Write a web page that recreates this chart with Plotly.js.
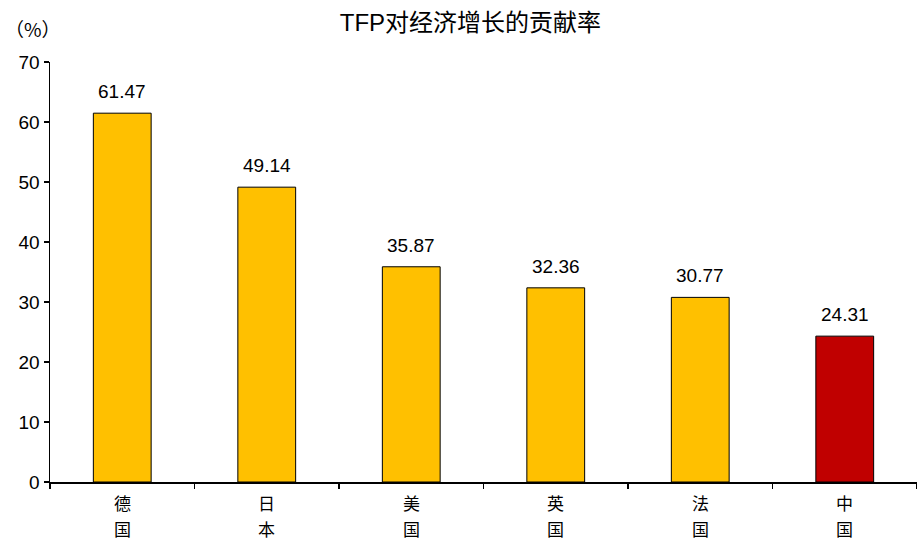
<!DOCTYPE html>
<html>
<head>
<meta charset="utf-8">
<script src="https://cdn.plot.ly/plotly-3.0.1.min.js"></script>
<style>html,body{margin:0;padding:0;background:#fff;}#chart{width:917px;height:540px;}</style>
</head>
<body>
<div id="chart"></div>
<script>
// TFP contribution to economic growth, by country (%)
const countries = ['德国', '日本', '美国', '英国', '法国', '中国'];
const tfpShare = [61.47, 49.14, 35.87, 32.36, 30.77, 24.31];
const barColors = ['#FFC000', '#FFC000', '#FFC000', '#FFC000', '#FFC000', '#C00000'];
const yTicks = [0, 10, 20, 30, 40, 50, 60, 70];

const trace = {
  type: 'bar',
  x: countries,
  y: tfpShare,
  marker: { color: barColors, line: { color: '#000', width: 1 } },
  hoverinfo: 'none'
};

const numFont = { family: 'Liberation Sans, Arial, sans-serif', size: 19, color: '#000' };
const cjkFont = { family: 'Noto Sans CJK SC, sans-serif', size: 17, color: '#000' };

// value labels above each bar
const valueLabels = tfpShare.map((v, i) => ({
  x: countries[i], y: v, xref: 'x', yref: 'y',
  text: v.toFixed(2), showarrow: false,
  yanchor: 'bottom', yshift: 9, font: numFont
}));

// country names written vertically, one character per line
const nameLabels = [];
countries.forEach(name => {
  Array.from(name).forEach((ch, k) => {
    nameLabels.push({
      x: name, y: 0, xref: 'x', yref: 'paper',
      text: ch, showarrow: false, yanchor: 'middle',
      yshift: -20 - 26 * k, font: cjkFont
    });
  });
});

const layout = {
  width: 917, height: 540,
  margin: { l: 50, r: 0, t: 62, b: 58 },
  paper_bgcolor: '#fff', plot_bgcolor: '#fff',
  bargap: 0.6,
  showlegend: false,
  title: {
    text: 'TFP对经济增长的贡献率',
    x: 0.513, xanchor: 'center', y: 0.958, yanchor: 'middle',
    font: { family: 'Liberation Sans, Noto Sans CJK SC, sans-serif', size: 24, color: '#000' }
  },
  xaxis: {
    showline: true, linecolor: '#000', linewidth: 1.5,
    ticks: 'outside', tickson: 'boundaries', ticklen: 5, tickcolor: '#000', tickwidth: 1.5,
    showticklabels: false, showgrid: false, zeroline: false
  },
  yaxis: {
    range: [0, 70], tickvals: yTicks,
    showline: true, linecolor: '#000', linewidth: 1.5,
    ticks: 'outside', ticklen: 5, tickcolor: '#000', tickwidth: 1.5,
    showgrid: false, zeroline: false,
    tickfont: { family: 'Liberation Sans, Arial, sans-serif', size: 19, color: '#000' }
  },
  annotations: valueLabels.concat(nameLabels, [{
    x: -50 / 867, y: 1 + 34 / 420, xref: 'paper', yref: 'paper',
    xanchor: 'left', yanchor: 'middle', xshift: 3,
    text: '（%）', showarrow: false,
    font: { family: 'Noto Sans CJK SC, sans-serif', size: 19, color: '#000' }
  }])
};

Plotly.newPlot('chart', [trace], layout, { displayModeBar: false, staticPlot: true });
</script>
</body>
</html>
